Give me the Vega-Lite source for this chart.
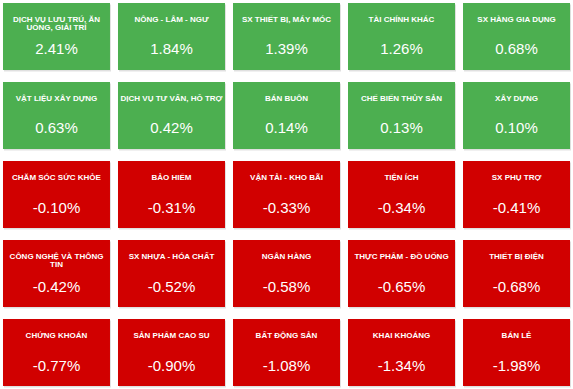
{
  "$schema": "https://vega.github.io/schema/vega-lite/v6.json",
  "width": 573,
  "height": 389,
  "padding": 0,
  "autosize": {"type": "fit", "contains": "padding"},
  "background": "#ffffff",
  "config": {
    "view": {"stroke": null},
    "locale": {"number": {"decimal": ".", "thousands": ",", "grouping": [3], "currency": ["$", ""], "minus": "-", "percent": "%"}}
  },
  "data": {
    "values": [
      {"col": 1, "row": 1, "name": "DỊCH VỤ LƯU TRÚ, ĂN\nUỐNG, GIẢI TRÍ", "change": 0.0241},
      {"col": 2, "row": 1, "name": "NÔNG - LÂM - NGƯ", "change": 0.0184},
      {"col": 3, "row": 1, "name": "SX THIẾT BỊ, MÁY MÓC", "change": 0.0139},
      {"col": 4, "row": 1, "name": "TÀI CHÍNH KHÁC", "change": 0.0126},
      {"col": 5, "row": 1, "name": "SX HÀNG GIA DỤNG", "change": 0.0068},
      {"col": 1, "row": 2, "name": "VẬT LIỆU XÂY DỰNG", "change": 0.0063},
      {"col": 2, "row": 2, "name": "DỊCH VỤ TƯ VẤN, HỖ TRỢ", "change": 0.0042},
      {"col": 3, "row": 2, "name": "BÁN BUÔN", "change": 0.0014},
      {"col": 4, "row": 2, "name": "CHẾ BIẾN THỦY SẢN", "change": 0.0013},
      {"col": 5, "row": 2, "name": "XÂY DỰNG", "change": 0.0010},
      {"col": 1, "row": 3, "name": "CHĂM SÓC SỨC KHỎE", "change": -0.0010},
      {"col": 2, "row": 3, "name": "BẢO HIỂM", "change": -0.0031},
      {"col": 3, "row": 3, "name": "VẬN TẢI - KHO BÃI", "change": -0.0033},
      {"col": 4, "row": 3, "name": "TIỆN ÍCH", "change": -0.0034},
      {"col": 5, "row": 3, "name": "SX PHỤ TRỢ", "change": -0.0041},
      {"col": 1, "row": 4, "name": "CÔNG NGHỆ VÀ THÔNG\nTIN", "change": -0.0042},
      {"col": 2, "row": 4, "name": "SX NHỰA - HÓA CHẤT", "change": -0.0052},
      {"col": 3, "row": 4, "name": "NGÂN HÀNG", "change": -0.0058},
      {"col": 4, "row": 4, "name": "THỰC PHẨM - ĐỒ UỐNG", "change": -0.0065},
      {"col": 5, "row": 4, "name": "THIẾT BỊ ĐIỆN", "change": -0.0068},
      {"col": 1, "row": 5, "name": "CHỨNG KHOÁN", "change": -0.0077},
      {"col": 2, "row": 5, "name": "SẢN PHẨM CAO SU", "change": -0.0090},
      {"col": 3, "row": 5, "name": "BẤT ĐỘNG SẢN", "change": -0.0108},
      {"col": 4, "row": 5, "name": "KHAI KHOÁNG", "change": -0.0134},
      {"col": 5, "row": 5, "name": "BÁN LẺ", "change": -0.0198}
    ]
  },
  "encoding": {
    "x": {"field": "col", "type": "ordinal", "axis": null, "scale": {"paddingInner": 0.0696, "paddingOuter": 0.026}},
    "y": {"field": "row", "type": "ordinal", "axis": null, "scale": {"paddingInner": 0.152, "paddingOuter": 0.038}}
  },
  "layer": [
    {
      "mark": {"type": "rect", "color": "#000000", "opacity": 0.12, "xOffset": 1, "yOffset": 1.5}
    },
    {
      "mark": {"type": "rect"},
      "encoding": {
        "color": {"condition": {"test": "datum.change >= 0", "value": "#4caf50"}, "value": "#d10000"}
      }
    },
    {
      "mark": {"type": "text", "font": "Liberation Sans", "fontSize": 8, "fontWeight": "bold", "color": "#ffffff", "align": "center", "baseline": "alphabetic", "dy": -14.5, "lineBreak": "\n", "lineHeight": 8},
      "encoding": {"text": {"field": "name"}}
    },
    {
      "mark": {"type": "text", "font": "Liberation Sans", "fontSize": 15, "color": "#ffffff", "align": "center", "baseline": "alphabetic", "dy": 18},
      "encoding": {"text": {"field": "change", "format": ".2%"}}
    }
  ]
}
